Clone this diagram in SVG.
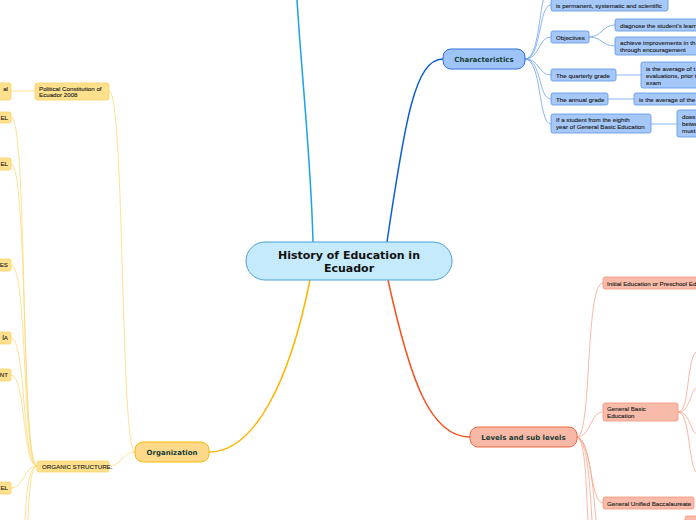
<svg xmlns="http://www.w3.org/2000/svg" width="696" height="520" viewBox="0 0 696 520">
<style>
.t{font-family:"Liberation Sans",Arial,sans-serif;font-size:6.2px;fill:#222;stroke:#222;stroke-width:0.12}
.b{font-family:"DejaVu Sans",Verdana,sans-serif;font-size:7px;font-weight:bold;fill:#173d36}
.c{font-family:"DejaVu Sans",Verdana,sans-serif;font-size:11px;font-weight:bold;fill:#111}
.bl{fill:#a6c8f9;stroke:#5a93e3;stroke-width:0.8}
.yl{fill:#ffe08c;stroke:#fcd068;stroke-width:0.8}
.rd{fill:#f9bba9;stroke:#f5967a;stroke-width:0.8}
.cb{fill:none;stroke:#6ea3ee;stroke-width:0.8}
.cy{fill:none;stroke:#ffd97a;stroke-width:0.8}
.cr{fill:none;stroke:#f8a58c;stroke-width:0.8}
</style>
<g id="connectors">
<path d="M313,242 C311,160 302,80 297,0" fill="none" stroke="#1aa3e8" stroke-width="1.5"/>
<path d="M387,242 C405,120 415,59 443,59" fill="none" stroke="#1060d2" stroke-width="1.5"/>
<path d="M310,280 C290,380 255,452 209,452" fill="none" stroke="#ffb400" stroke-width="1.5"/>
<path d="M388,280 C410,380 430,437 470,437" fill="none" stroke="#f4511e" stroke-width="1.5"/>
<path class="cb" d="M525,59 C542,59 538,-14 551,-14"/>
<path class="cb" d="M525,59 C542,59 538,5 551,5"/>
<path class="cb" d="M525,59 C540,59 538,37 551,37"/>
<path class="cb" d="M525,59 C540,59 538,75 551,75"/>
<path class="cb" d="M525,59 C542,59 538,99 551,99"/>
<path class="cb" d="M525,59 C542,59 538,124 551,124"/>
<path class="cb" d="M589,37 C602,37 602,25 615,25"/>
<path class="cb" d="M589,37 C602,37 602,46 615,46"/>
<path class="cb" d="M616,75 L641,75"/>
<path class="cb" d="M608,99 L634,99"/>
<path class="cb" d="M651,124 L677,124"/>
<path class="cy" d="M135,452 C120,452 125,91 109,91"/>
<path class="cy" d="M135,452 C122,452 122,466 109,466"/>
<path class="cy" d="M35,91 L11,91"/>
<path class="cy" d="M37,466 C20,466 28,117 11,117"/>
<path class="cy" d="M37,466 C21,466 28,164 11,164"/>
<path class="cy" d="M37,466 C22,466 28,265 11,265"/>
<path class="cy" d="M37,466 C22,466 26,338 11,338"/>
<path class="cy" d="M37,466 C22,466 26,375 11,375"/>
<path class="cy" d="M37,466 C24,466 24,488 11,488"/>
<path class="cy" d="M37,466 C28,466 26,500 25,520"/>
<path class="cy" d="M37,466 C30,466 29,500 28,520"/>
<path class="cr" d="M577,437 C592,437 585,283 603,283"/>
<path class="cr" d="M577,437 C591,437 590,412 603,412"/>
<path class="cr" d="M577,437 C591,437 590,503 603,503"/>
<path class="cr" d="M577,437 C586,440 586,490 588,520"/>
<path class="cr" d="M577,437 C588,440 590,490 592,520"/>
<path class="cr" d="M577,437 C590,440 593,490 596,520"/>
<path class="cr" d="M678,412 C690,412 686,362 696,352"/>
<path class="cr" d="M678,412 C690,412 690,392 696,388"/>
<path class="cr" d="M678,412 C690,412 690,430 696,434"/>
<path class="cr" d="M678,412 C690,412 688,462 696,472"/>
</g>
<g id="center">
<rect x="246" y="242" width="206" height="38" rx="19" fill="#c4eafb" stroke="#4aa0d8" stroke-width="1"/>
<text class="c" x="349" y="259" text-anchor="middle">History of Education in</text>
<text class="c" x="349" y="272" text-anchor="middle">Ecuador</text>
</g>
<g id="characteristics">
<rect x="443" y="49" width="82" height="20" rx="8" fill="#9fc4f8" stroke="#2f6fd6" stroke-width="1"/>
<text class="b" x="484" y="62" text-anchor="middle">Characteristics</text>
</g>
<g id="c-permanent"><rect class="bl" x="551" y="-1" width="117" height="12" rx="2"/><text class="t" x="556" y="8">is permanent, systematic and scientific</text></g>
<g id="c-objectives"><rect class="bl" x="551" y="31" width="38" height="12" rx="2"/><text class="t" x="556" y="39.5">Objectives</text></g>
<g id="c-diagnose"><rect class="bl" x="615" y="19" width="90" height="12" rx="2"/><text class="t" x="620" y="27.5">diagnose the student's learn</text></g>
<g id="c-achieve"><rect class="bl" x="615" y="37" width="90" height="18" rx="2"/><text class="t" x="620" y="45">achieve improvements in th</text><text class="t" x="620" y="52">through encouragement</text></g>
<g id="c-quarterly"><rect class="bl" x="551" y="69" width="65" height="12" rx="2"/><text class="t" x="556" y="77.5">The quarterly grade</text></g>
<g id="c-quarterly-def"><rect class="bl" x="641" y="62" width="70" height="26" rx="2"/><text class="t" x="646" y="71">is the average of t</text><text class="t" x="646" y="78">evaluations, prior t</text><text class="t" x="646" y="85">exam</text></g>
<g id="c-annual"><rect class="bl" x="551" y="93" width="57" height="12" rx="2"/><text class="t" x="556" y="101.5">The annual grade</text></g>
<g id="c-annual-def"><rect class="bl" x="634" y="93" width="75" height="12" rx="2"/><text class="t" x="639" y="101.5">is the average of the</text></g>
<g id="c-student"><rect class="bl" x="551" y="114" width="100" height="19" rx="2"/><text class="t" x="556" y="122">If a student from the eighth</text><text class="t" x="556" y="129">year of General Basic Education</text></g>
<g id="c-student-def"><rect class="bl" x="677" y="110" width="40" height="27" rx="2"/><text class="t" x="682" y="119">does</text><text class="t" x="682" y="126">betwe</text><text class="t" x="682" y="133">must</text></g>
<g id="organization">
<rect x="135" y="442" width="74" height="20" rx="8" fill="#ffd98a" stroke="#f6b90a" stroke-width="1"/>
<text class="b" x="172" y="455" text-anchor="middle">Organization</text>
</g>
<g id="o-organic"><rect class="yl" x="37" y="461" width="72" height="11" rx="2"/><text class="t" x="42" y="469">ORGANIC STRUCTURE.</text></g>
<g id="o-constitution"><rect class="yl" x="35" y="83" width="74" height="17" rx="2"/><text class="t" x="39" y="90.5">Political Constitution of</text><text class="t" x="39" y="97">Ecuador 2008</text></g>
<g id="o-left1"><rect class="yl" x="-40" y="83" width="51" height="17" rx="2"/><text class="t" x="8" y="90.5" text-anchor="end">al</text></g>
<g id="o-left2"><rect class="yl" x="-40" y="112" width="51" height="11" rx="2"/><text class="t" x="8" y="119.5" text-anchor="end">EL</text></g>
<g id="o-left3"><rect class="yl" x="-40" y="158" width="51" height="12" rx="2"/><text class="t" x="8" y="166" text-anchor="end">EL</text></g>
<g id="o-left4"><rect class="yl" x="-40" y="259" width="51" height="12" rx="2"/><text class="t" x="8" y="267" text-anchor="end">ES</text></g>
<g id="o-left5"><rect class="yl" x="-40" y="332" width="51" height="12" rx="2"/><text class="t" x="8" y="340" text-anchor="end">ÍA</text></g>
<g id="o-left6"><rect class="yl" x="-40" y="369" width="51" height="12" rx="2"/><text class="t" x="8" y="377" text-anchor="end">NT</text></g>
<g id="o-left7"><rect class="yl" x="-40" y="482" width="51" height="12" rx="2"/><text class="t" x="8" y="490" text-anchor="end">EL</text></g>
<g id="levels">
<rect x="470" y="427" width="107" height="20" rx="8" fill="#f8b8a6" stroke="#ee6a45" stroke-width="1"/>
<text class="b" x="523.5" y="440" text-anchor="middle">Levels and sub levels</text>
</g>
<g id="l-initial"><rect class="rd" x="603" y="277" width="110" height="12" rx="2"/><text class="t" x="607" y="285.5">Initial Education or Preschool Ed</text></g>
<g id="l-basic"><rect class="rd" x="603" y="403" width="75" height="18" rx="2"/><text class="t" x="607" y="411">General Basic</text><text class="t" x="607" y="418">Education</text></g>
<g id="l-bachillerato"><rect class="rd" x="603" y="497" width="91" height="12" rx="2"/><text class="t" x="607" y="505.5">General Unified Baccalaureate</text></g>
<g id="l-other"><rect class="rd" x="685" y="516" width="20" height="12" rx="2"/></g>
</svg>
